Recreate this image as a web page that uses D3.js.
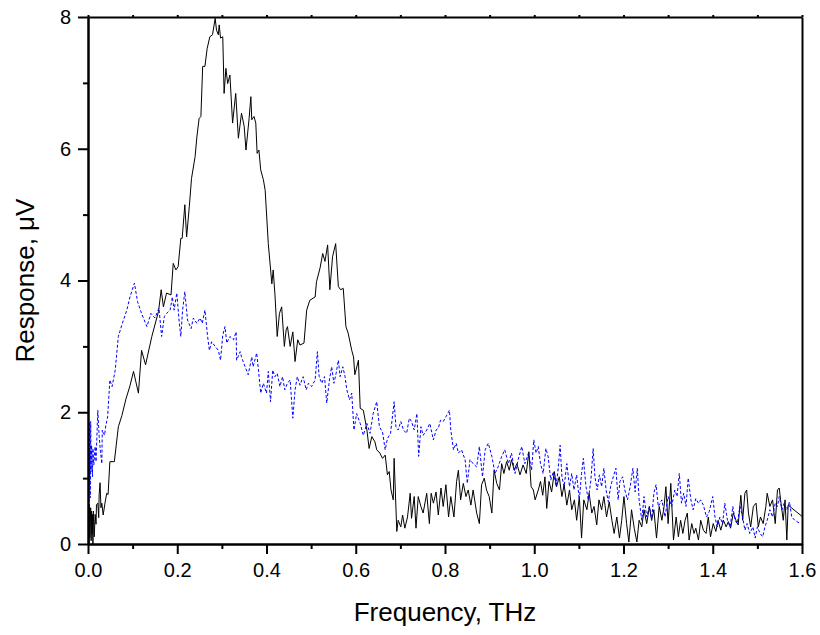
<!DOCTYPE html>
<html lang="en">
<head>
  <meta charset="utf-8">
  <title>Response spectrum</title>
  <script src="https://d3js.org/d3.v7.min.js"></script>
  <style>
    body { margin: 0; background: #fff; }
    text { font-family: "Liberation Sans", Arial, sans-serif; fill: #000; }
  </style>
</head>
<body>
  <script type="text/javascript">
  var w = 820;
  var h = 635;
  var margin = {top: 17, right: 18, bottom: 91, left: 88};

  // axis ticks
  var xMajor = [0, 0.2, 0.4, 0.6, 0.8, 1.0, 1.2, 1.4, 1.6];
  var xMinor = [0.1, 0.3, 0.5, 0.7, 0.9, 1.1, 1.3, 1.5];
  var yMajor = [0, 2, 4, 6, 8];
  var yMinor = [1, 3, 5, 7];

  // [frequency THz, response uV]
  var blackData = [[0.001,0.30],[0.002,0.00],[0.003,0.60],[0.004,0.10],[0.006,0.55],[0.007,0.05],[0.008,0.50],[0.009,0.15],[0.010,0.45],[0.011,0.00],[0.012,0.50],[0.014,0.11],[0.016,0.45],[0.018,0.30],[0.019,0.60],[0.022,0.62],[0.024,0.40],[0.025,0.75],[0.027,0.93],[0.029,0.55],[0.031,0.62],[0.034,0.44],[0.038,0.62],[0.042,0.77],[0.045,0.75],[0.049,1.25],[0.059,1.25],[0.068,1.78],[0.076,1.95],[0.085,2.20],[0.094,2.40],[0.102,2.62],[0.113,2.29],[0.120,2.94],[0.129,2.72],[0.143,3.15],[0.158,3.53],[0.164,3.86],[0.169,3.60],[0.176,3.81],[0.186,3.78],[0.191,4.26],[0.197,4.16],[0.202,4.21],[0.208,4.64],[0.211,4.64],[0.217,5.15],[0.221,4.66],[0.227,5.12],[0.232,5.55],[0.240,5.88],[0.244,6.18],[0.249,6.46],[0.253,6.49],[0.257,7.25],[0.262,7.25],[0.267,7.52],[0.273,7.70],[0.279,7.73],[0.285,7.98],[0.288,7.80],[0.292,7.73],[0.294,7.88],[0.297,7.68],[0.302,7.70],[0.305,6.84],[0.309,7.22],[0.313,6.99],[0.318,7.12],[0.324,6.39],[0.331,6.84],[0.337,6.16],[0.344,6.54],[0.350,6.34],[0.354,5.98],[0.361,6.46],[0.365,6.79],[0.367,6.44],[0.372,6.49],[0.376,6.39],[0.379,5.93],[0.383,5.98],[0.387,5.68],[0.393,5.53],[0.397,5.37],[0.404,4.56],[0.412,3.95],[0.415,4.16],[0.419,3.78],[0.424,3.15],[0.429,3.50],[0.434,3.60],[0.440,3.00],[0.444,3.25],[0.447,3.30],[0.453,3.00],[0.459,3.22],[0.464,2.77],[0.470,3.10],[0.475,3.02],[0.484,3.05],[0.490,3.55],[0.497,3.70],[0.509,3.75],[0.512,3.98],[0.520,4.19],[0.526,4.41],[0.531,4.29],[0.537,4.54],[0.542,3.86],[0.548,4.36],[0.555,4.56],[0.561,3.91],[0.566,3.86],[0.572,3.88],[0.578,3.30],[0.583,3.20],[0.591,2.94],[0.595,2.84],[0.598,2.57],[0.606,2.79],[0.610,2.06],[0.617,2.03],[0.625,1.73],[0.630,1.45],[0.636,1.63],[0.643,1.55],[0.647,1.43],[0.654,1.38],[0.660,1.30],[0.666,1.35],[0.671,1.05],[0.675,1.10],[0.679,0.82],[0.684,0.67],[0.686,1.30],[0.692,0.19],[0.695,0.36],[0.701,0.26],[0.705,0.44],[0.710,0.24],[0.716,0.41],[0.722,0.77],[0.725,0.39],[0.731,0.72],[0.735,0.24],[0.740,0.72],[0.746,0.57],[0.751,0.47],[0.759,0.77],[0.765,0.31],[0.769,0.77],[0.774,0.62],[0.780,0.79],[0.785,0.44],[0.791,0.85],[0.796,0.57],[0.802,0.90],[0.808,0.41],[0.813,0.72],[0.820,0.41],[0.826,0.95],[0.830,1.12],[0.835,0.67],[0.841,0.92],[0.847,0.72],[0.852,0.82],[0.858,0.59],[0.863,0.82],[0.871,0.47],[0.877,0.31],[0.882,0.90],[0.888,1.00],[0.893,0.82],[0.899,0.72],[0.905,0.47],[0.910,1.12],[0.916,0.92],[0.922,0.82],[0.927,1.22],[0.932,1.07],[0.938,1.25],[0.944,1.12],[0.949,1.28],[0.955,1.12],[0.961,1.22],[0.968,1.05],[0.975,1.20],[0.982,1.07],[0.988,1.40],[0.993,0.87],[0.998,0.82],[1.002,0.67],[1.009,0.82],[1.014,0.95],[1.019,0.74],[1.024,1.02],[1.028,0.54],[1.033,0.95],[1.039,0.79],[1.045,1.10],[1.050,0.87],[1.056,1.02],[1.062,0.72],[1.067,0.90],[1.073,0.59],[1.079,0.82],[1.084,0.52],[1.090,0.67],[1.095,0.36],[1.101,0.72],[1.106,0.09],[1.111,0.67],[1.118,0.52],[1.123,0.77],[1.129,0.47],[1.134,0.57],[1.140,0.29],[1.145,0.67],[1.151,0.52],[1.156,0.72],[1.162,0.41],[1.168,0.64],[1.174,0.36],[1.179,0.16],[1.185,0.41],[1.191,0.09],[1.196,0.36],[1.201,0.72],[1.207,0.31],[1.212,0.03],[1.218,0.52],[1.224,0.24],[1.230,0.03],[1.235,0.36],[1.241,0.26],[1.246,0.52],[1.252,0.31],[1.258,0.57],[1.263,0.36],[1.268,0.52],[1.274,0.09],[1.280,0.57],[1.286,0.36],[1.291,0.57],[1.295,0.87],[1.300,0.31],[1.306,0.92],[1.312,0.06],[1.318,0.41],[1.323,0.11],[1.328,0.36],[1.333,0.16],[1.338,0.36],[1.343,0.47],[1.347,0.06],[1.353,0.31],[1.358,0.16],[1.362,0.24],[1.368,0.06],[1.373,0.36],[1.379,0.21],[1.385,0.16],[1.390,0.41],[1.395,0.11],[1.401,0.31],[1.407,0.19],[1.412,0.36],[1.418,0.21],[1.424,0.36],[1.430,0.26],[1.435,0.34],[1.440,0.24],[1.446,0.47],[1.452,0.36],[1.457,0.29],[1.463,0.74],[1.467,0.36],[1.472,0.77],[1.476,0.82],[1.480,0.47],[1.485,0.26],[1.491,0.57],[1.497,0.62],[1.502,0.26],[1.507,0.41],[1.513,0.31],[1.519,0.57],[1.522,0.77],[1.528,0.57],[1.534,0.67],[1.540,0.31],[1.545,0.82],[1.549,0.85],[1.552,0.67],[1.558,0.36],[1.562,0.67],[1.566,0.06],[1.569,0.59],[1.600,0.42]];

  var blueData = [[0.001,0.80],[0.0015,1.50],[0.002,0.55],[0.003,1.85],[0.0035,0.90],[0.004,1.40],[0.005,0.70],[0.006,1.86],[0.007,1.10],[0.008,1.50],[0.010,1.02],[0.011,1.45],[0.013,1.20],[0.016,1.48],[0.018,1.25],[0.022,2.03],[0.025,1.63],[0.028,1.40],[0.031,1.22],[0.032,1.73],[0.037,1.65],[0.040,1.80],[0.044,1.93],[0.049,2.49],[0.054,2.39],[0.061,2.64],[0.068,3.15],[0.077,3.35],[0.087,3.55],[0.094,3.75],[0.104,3.96],[0.111,3.68],[0.120,3.50],[0.132,3.30],[0.141,3.50],[0.150,3.43],[0.159,3.58],[0.165,3.15],[0.171,3.45],[0.176,3.50],[0.184,3.55],[0.189,3.75],[0.193,3.55],[0.199,3.81],[0.204,3.40],[0.208,3.15],[0.212,3.55],[0.217,3.83],[0.223,3.40],[0.231,3.27],[0.236,3.43],[0.244,3.35],[0.251,3.43],[0.256,3.35],[0.262,3.55],[0.268,3.15],[0.272,2.94],[0.277,3.07],[0.285,3.00],[0.292,2.94],[0.297,2.79],[0.302,3.17],[0.307,3.30],[0.311,3.05],[0.318,3.15],[0.326,3.10],[0.332,3.22],[0.333,2.79],[0.341,2.92],[0.344,2.84],[0.352,2.69],[0.359,2.57],[0.367,2.84],[0.370,2.69],[0.378,2.90],[0.382,2.64],[0.387,2.29],[0.393,2.44],[0.400,2.29],[0.404,2.62],[0.409,2.16],[0.414,2.64],[0.419,2.54],[0.424,2.59],[0.430,2.39],[0.436,2.54],[0.441,2.34],[0.447,2.44],[0.453,2.49],[0.459,1.91],[0.464,2.34],[0.469,2.54],[0.475,2.41],[0.482,2.54],[0.489,2.34],[0.494,2.44],[0.501,2.39],[0.509,2.49],[0.514,2.92],[0.518,2.54],[0.524,2.44],[0.530,2.54],[0.535,2.14],[0.541,2.49],[0.546,2.69],[0.551,2.44],[0.556,2.59],[0.561,2.79],[0.565,2.54],[0.571,2.69],[0.576,2.54],[0.580,2.34],[0.586,2.19],[0.591,2.29],[0.596,1.73],[0.602,1.98],[0.610,1.83],[0.617,1.65],[0.625,1.83],[0.632,1.68],[0.639,1.98],[0.647,2.16],[0.653,1.78],[0.660,1.70],[0.666,1.43],[0.671,1.60],[0.678,1.68],[0.686,2.16],[0.690,1.78],[0.695,1.73],[0.701,1.86],[0.707,1.73],[0.714,1.68],[0.720,1.91],[0.725,1.86],[0.731,1.73],[0.737,1.98],[0.741,1.33],[0.746,1.78],[0.751,1.65],[0.759,1.73],[0.766,1.83],[0.774,1.58],[0.780,1.73],[0.785,1.76],[0.790,1.88],[0.796,1.86],[0.802,1.93],[0.810,2.03],[0.813,1.73],[0.819,1.43],[0.825,1.53],[0.830,1.38],[0.837,1.43],[0.845,1.28],[0.850,0.92],[0.856,1.28],[0.863,1.22],[0.871,1.17],[0.877,1.48],[0.884,1.02],[0.890,1.43],[0.897,1.53],[0.905,1.33],[0.912,1.07],[0.919,1.17],[0.927,1.33],[0.934,1.43],[0.942,1.22],[0.949,1.38],[0.957,1.07],[0.964,1.28],[0.972,1.48],[0.979,1.22],[0.987,1.38],[0.994,1.12],[0.999,1.58],[1.004,1.38],[1.009,1.48],[1.014,1.22],[1.020,1.07],[1.026,1.45],[1.031,1.33],[1.037,0.97],[1.043,1.10],[1.049,0.87],[1.054,1.17],[1.058,1.50],[1.062,1.02],[1.067,0.87],[1.073,1.22],[1.079,0.87],[1.084,1.07],[1.089,0.82],[1.095,1.05],[1.101,0.67],[1.106,1.07],[1.110,1.30],[1.116,0.87],[1.121,0.67],[1.127,0.97],[1.132,1.45],[1.136,1.02],[1.141,0.82],[1.146,1.05],[1.151,0.87],[1.156,1.15],[1.161,0.82],[1.166,0.64],[1.171,0.87],[1.177,1.02],[1.183,1.15],[1.188,0.67],[1.192,0.95],[1.198,1.02],[1.203,0.82],[1.209,0.67],[1.215,0.87],[1.221,1.15],[1.226,0.79],[1.231,1.15],[1.235,0.67],[1.241,0.36],[1.246,0.72],[1.252,0.41],[1.258,0.57],[1.263,0.36],[1.268,0.77],[1.273,0.90],[1.278,0.57],[1.286,0.67],[1.293,0.41],[1.300,0.72],[1.308,0.57],[1.315,0.82],[1.320,0.72],[1.325,1.07],[1.330,0.62],[1.335,0.77],[1.340,0.57],[1.345,1.00],[1.351,0.67],[1.356,0.52],[1.362,0.69],[1.368,0.62],[1.373,0.67],[1.379,0.59],[1.386,0.41],[1.392,0.49],[1.400,0.72],[1.405,0.41],[1.410,0.26],[1.416,0.41],[1.422,0.31],[1.427,0.62],[1.433,0.36],[1.439,0.26],[1.445,0.57],[1.450,0.36],[1.455,0.31],[1.461,0.57],[1.467,0.41],[1.472,0.21],[1.477,0.31],[1.483,0.16],[1.490,0.26],[1.495,0.09],[1.500,0.26],[1.506,0.16],[1.512,0.11],[1.517,0.26],[1.522,0.36],[1.528,0.52],[1.534,0.41],[1.540,0.62],[1.545,0.57],[1.549,0.72],[1.555,0.52],[1.560,0.62],[1.566,0.52],[1.572,0.64],[1.577,0.41],[1.584,0.36],[1.596,0.31]];

  var svg = d3.select("body")
    .append("svg")
    .attr("width", w)
    .attr("height", h);

  var x = d3.scaleLinear()
    .domain([0, 1.6])
    .range([margin.left, w - margin.right]);

  var y = d3.scaleLinear()
    .domain([0, 8])
    .range([h - margin.bottom, margin.top]);

  var line = d3.line()
    .x(function(d){ return x(d[0]); })
    .y(function(d){ return y(d[1]); });

  svg.append("path")
    .datum(blackData)
    .attr("fill", "none")
    .attr("stroke", "#000")
    .attr("stroke-width", 1)
    .attr("d", line);

  svg.append("path")
    .datum(blueData)
    .attr("fill", "none")
    .attr("stroke", "#0000ff")
    .attr("stroke-width", 1)
    .attr("stroke-dasharray", "3,2")
    .attr("d", line);

  function styleAxis(g){
    g.select(".domain").attr("stroke-width", 2);
    g.selectAll(".tick line").attr("stroke-width", 2);
    g.selectAll(".tick text")
      .style("font-family", "'Liberation Sans', Arial, sans-serif")
      .style("font-size", "20px")
      .attr("fill", "#000");
  }

  // bottom
  svg.append("g")
    .attr("transform", "translate(0," + y(0) + ")")
    .call(d3.axisBottom(x).tickValues(xMinor).tickSize(5).tickSizeOuter(0).tickFormat(""))
    .call(styleAxis);
  svg.append("g")
    .attr("transform", "translate(0," + y(0) + ")")
    .call(d3.axisBottom(x).tickValues(xMajor).tickSize(10).tickSizeOuter(0).tickPadding(9)
      .tickFormat(d3.format(".1f")))
    .call(styleAxis);

  // left
  svg.append("g")
    .attr("transform", "translate(" + x(0) + ",0)")
    .call(d3.axisLeft(y).tickValues(yMinor).tickSize(5).tickSizeOuter(0).tickFormat(""))
    .call(styleAxis);
  svg.append("g")
    .attr("transform", "translate(" + x(0) + ",0)")
    .call(d3.axisLeft(y).tickValues(yMajor).tickSize(10).tickSizeOuter(0).tickPadding(7)
      .tickFormat(d3.format("d")))
    .call(styleAxis);

  // top and right frame
  svg.append("g")
    .attr("transform", "translate(0," + y(8) + ")")
    .call(d3.axisTop(x).tickValues(xMajor.concat(xMinor)).tickSize(2).tickSizeOuter(0).tickFormat(""))
    .call(styleAxis);
  svg.append("g")
    .attr("transform", "translate(" + x(1.6) + ",0)")
    .call(d3.axisRight(y).tickValues([]).tickSizeOuter(0))
    .call(styleAxis);

  svg.append("text")
    .text("Frequency, THz")
    .attr("x", (x(0) + x(1.6)) / 2)
    .attr("y", 621)
    .attr("text-anchor", "middle")
    .style("font-size", "26px");

  svg.append("text")
    .text("Response, \u03BCV")
    .attr("transform", "translate(34," + (y(0) + y(8)) / 2 + ") rotate(-90)")
    .attr("text-anchor", "middle")
    .style("font-size", "26px");
  </script>
</body>
</html>
